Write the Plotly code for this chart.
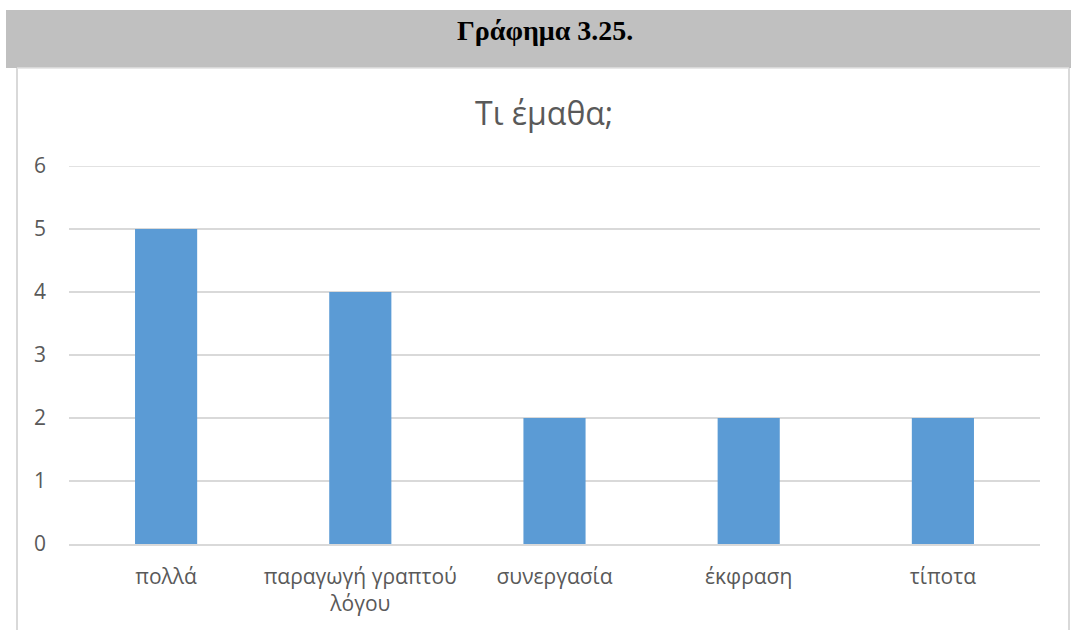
import plotly.graph_objects as go

categories = ["πολλά", "παραγωγή γραπτού<br>λόγου", "συνεργασία", "έκφραση", "τίποτα"]
values = [5, 4, 2, 2, 2]
y_ticks = [0, 1, 2, 3, 4, 5, 6]

W, H = 1071, 630
L, R, T, B = 69, 1040, 166, 544  # plot area in pixels

def px(x):
    return (x - L) / (R - L)

def py(y):
    return (B - y) / (B - T)

fig = go.Figure(go.Bar(x=categories, y=values, marker=dict(color="#5B9BD5", line=dict(width=0)),
                       hoverinfo="x+y"))

font_fam = "Open Sans, Noto Sans, sans-serif"
fig.update_layout(
    width=W, height=H,
    margin=dict(l=L, r=W - R, t=T, b=H - B),
    paper_bgcolor="white", plot_bgcolor="white",
    bargap=0.68,
    showlegend=False,
    font=dict(family=font_fam, color="#595959", size=21),
    xaxis=dict(showgrid=False, showline=True, linecolor="#D9D9D9", linewidth=1.5,
               ticks="", tickfont=dict(size=21, color="#595959"), ticklabelstandoff=13,
               fixedrange=True),
    yaxis=dict(range=[0, 6], tickvals=y_ticks, showgrid=True, gridcolor="#D9D9D9", gridwidth=1.5,
               zeroline=False, showline=False, ticks="", tickfont=dict(size=21, color="#595959"),
               ticklabelstandoff=22, fixedrange=True),
    shapes=[
        dict(type="rect", xref="paper", yref="paper", x0=px(6), x1=px(1071), y0=py(68), y1=py(10),
             fillcolor="#C0C0C0", line=dict(width=0), layer="below"),
        dict(type="line", xref="paper", yref="paper", x0=px(17), x1=px(17), y0=py(68), y1=py(630),
             line=dict(color="#D9D9D9", width=2)),
        dict(type="line", xref="paper", yref="paper", x0=px(1069), x1=px(1069), y0=py(68), y1=py(630),
             line=dict(color="#D9D9D9", width=2)),
        dict(type="line", xref="paper", yref="paper", x0=px(17), x1=px(1069), y0=py(68), y1=py(68),
             line=dict(color="#E0E0E0", width=1.5)),
        dict(type="line", xref="paper", yref="y", x0=0, x1=1, y0=y_ticks[-1], y1=y_ticks[-1],
             line=dict(color="#D9D9D9", width=1.5), layer="below"),
    ],
    annotations=[
        dict(text="<b>Γράφημα 3.25.</b>", xref="paper", yref="paper", x=px(545), y=py(31),
             showarrow=False, xanchor="center", yanchor="middle",
             font=dict(family="Liberation Serif, Times New Roman, serif", size=28, color="black")),
        dict(text="Τι έμαθα;", xref="paper", yref="paper", x=px(544), y=py(112),
             showarrow=False, xanchor="center", yanchor="middle",
             font=dict(family=font_fam, size=32, color="#595959")),
    ],
)

fig.write_html("out.html", config={"displayModeBar": False},
               post_script="document.body.style.margin='0';document.body.style.padding='0';document.body.style.overflow='hidden';")
